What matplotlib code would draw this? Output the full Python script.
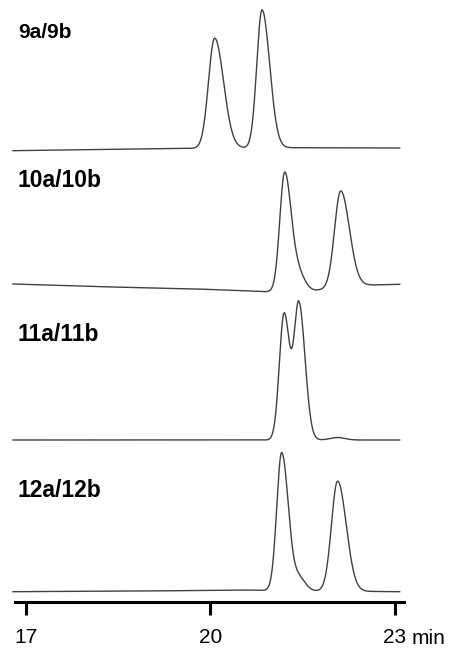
import numpy as np
import matplotlib
matplotlib.use("Agg")
import matplotlib.pyplot as plt

plt.rcParams['font.family'] = ['Liberation Sans', 'DejaVu Sans']

# Sample labels, top to bottom
samples = ['9a/9b', '10a/10b', '11a/11b', '12a/12b']
label_size = [15, 16.5, 16.5, 16.5]

# Peak tables per trace: retention time (min), height, left/right widths (min)
rt_9 = [20.07, 20.84]
h_9 = [110, 138]
sl_9 = [0.10, 0.085]
sr_9 = [0.145, 0.125]

rt_10 = [21.21, 21.45, 22.12]
h_10 = [119, 14, 96]
sl_10 = [0.08, 0.08, 0.10]
sr_10 = [0.11, 0.10, 0.14]

rt_11 = [21.20, 21.44, 22.07]
h_11 = [126, 136, 2.5]
sl_11 = [0.078, 0.078, 0.12]
sr_11 = [0.088, 0.10, 0.12]

rt_12 = [21.16, 21.45, 22.07]
h_12 = [138, 12, 110]
sl_12 = [0.08, 0.08, 0.10]
sr_12 = [0.11, 0.10, 0.14]

# Baseline (detector offset incl. drift) per trace
bt_9 = [16.79, 19.75, 21.3, 23.08]
bl_9 = [451.3, 453.7, 454.3, 454.0]
bt_10 = [16.79, 18.2, 19.8, 20.9, 21.7, 22.3, 23.08]
bl_10 = [318.0, 315.3, 313.0, 310.3, 311.5, 316.5, 317.7]
bt_11 = [16.79, 23.08]
bl_11 = [162.0, 162.0]
bt_12 = [16.79, 19.0, 20.5, 21.0, 23.08]
bl_12 = [10.3, 11.0, 12.0, 11.5, 10.3]

# label baseline heights
label_y = [564, 415, 261, 105]

ticks = [17, 20, 23]


def bigauss(t, rt, h, sl, sr):
    s = np.where(t < rt, sl, sr)
    return h * np.exp(-0.5 * ((t - rt) / s) ** 2)


def trace(t, rts, hs, sls, srs, bt, bl):
    y = np.interp(t, bt, bl)
    for rt, h, sl, sr in zip(rts, hs, sls, srs):
        y = y + bigauss(t, rt, h, sl, sr)
    return y


t = np.linspace(16.79, 23.08, 3000)
runs = [
    (rt_9, h_9, sl_9, sr_9, bt_9, bl_9),
    (rt_10, h_10, sl_10, sr_10, bt_10, bl_10),
    (rt_11, h_11, sl_11, sr_11, bt_11, bl_11),
    (rt_12, h_12, sl_12, sr_12, bt_12, bl_12),
]

fig = plt.figure(figsize=(4.56, 6.49), dpi=100)
ax = fig.add_axes([13 / 456, 1 - 602 / 649, 391 / 456, 602 / 649])

for run, name, ly, fs in zip(runs, samples, label_y, label_size):
    ax.plot(t, trace(t, *run), color='#404040', lw=1.0, clip_on=False)
    ax.text(16.87, ly, name, fontsize=fs, fontweight='bold', va='baseline', ha='left')

ax.set_xlim(16.79, 23.15)
ax.set_ylim(0, 602)

for side in ['left', 'right', 'top']:
    ax.spines[side].set_visible(False)
ax.spines['bottom'].set_linewidth(2.2)
ax.spines['bottom'].set_bounds(16.82, 23.15)
ax.set_yticks([])
ax.set_xticks(ticks)
ax.set_xticklabels([str(v) for v in ticks])
ax.tick_params(axis='x', direction='out', length=9, width=2.2, pad=10, labelsize=15)
ax.text(23.28, -42, 'min', fontsize=15, va='baseline', ha='left')

fig.savefig('out.png', dpi=100)
